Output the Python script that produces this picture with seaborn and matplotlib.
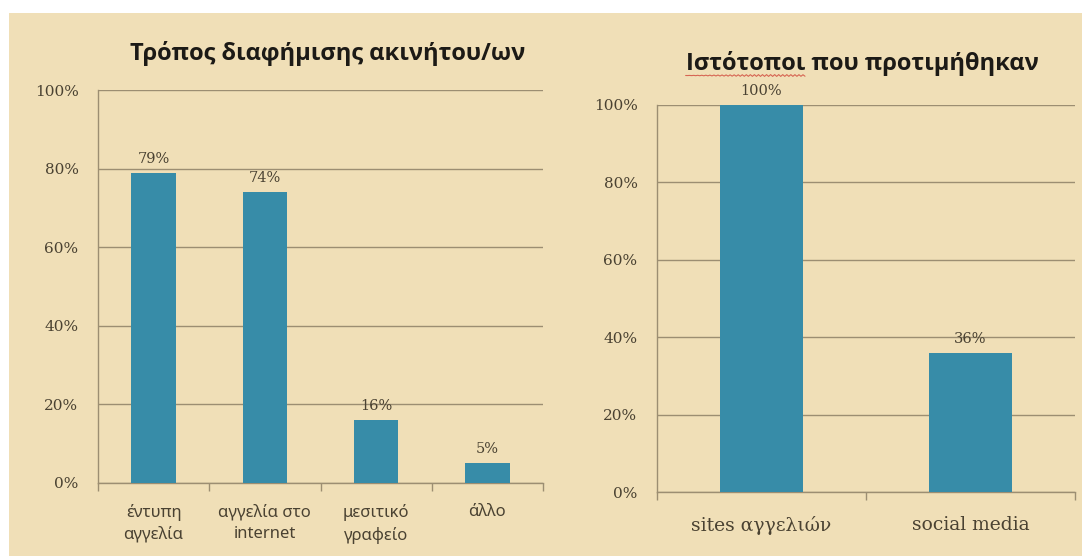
import matplotlib
matplotlib.use("Agg")
import numpy as np
import matplotlib.pyplot as plt
import seaborn as sns
from matplotlib.lines import Line2D
from matplotlib.patches import Rectangle
from matplotlib.ticker import FixedLocator, PercentFormatter

# --- data ---
left_title = "Τρόπος διαφήμισης ακινήτου/ων"
left_categories = ["έντυπη\nαγγελία", "αγγελία στο\ninternet", "μεσιτικό\nγραφείο", "άλλο"]
left_values = [79, 74, 16, 5]

right_title = "Ιστότοποι που προτιμήθηκαν"
right_categories = ["sites αγγελιών", "social media"]
right_values = [100, 36]

y_ticks = [0, 20, 40, 60, 80, 100]

# --- style ---
BG = "#F0DFB7"
BAR = "#378CA8"
GRID = "#9C8E72"
TXT = "#4A4232"
TITLE = "#1C1A16"
SERIF = ["DejaVu Serif"]
SANS = ["Noto Sans", "DejaVu Sans"]
TITLE_FONT = ["Open Sans", "DejaVu Sans"]

sns.set_theme(style="white")
plt.rcParams["font.family"] = SERIF

W, H = 1082, 556
fig = plt.figure(figsize=(W / 100, H / 100), dpi=100, facecolor="white")
fig.patches.append(Rectangle((9 / W, 0), 1 - 9 / W, 1 - 13 / H,
                             transform=fig.transFigure, facecolor=BG,
                             edgecolor="none", zorder=-10))


def px_axes(x0, x1, ytop, ybot):
    return fig.add_axes([x0 / W, 1 - ybot / H, (x1 - x0) / W, (ybot - ytop) / H])


def draw_bars(ax, cats, vals, xlab_font, xlab_size, xlab_pad, spacing):
    n = len(cats)
    sns.barplot(x=cats, y=vals, color=BAR, saturation=1, width=0.4, ax=ax,
                linewidth=0, edgecolor="none", zorder=3)
    ax.set_facecolor("none")
    ax.set_xlim(-0.5, n - 0.5)
    ax.set_ylim(0, 100)
    ax.yaxis.set_major_locator(FixedLocator(y_ticks))
    ax.yaxis.set_major_formatter(PercentFormatter(decimals=0))
    ax.grid(axis="y", color=GRID, linewidth=1)
    ax.grid(axis="x", visible=False)
    ax.set_axisbelow(True)
    for side in ("top", "right"):
        ax.spines[side].set_visible(False)
    for side in ("left", "bottom"):
        ax.spines[side].set_color(GRID)
        ax.spines[side].set_linewidth(1)
    ax.tick_params(axis="y", length=8, width=1, color=GRID, pad=6,
                   labelsize=11, labelcolor=TXT)
    ax.set_xticks(range(n))
    ax.set_xticklabels(cats, fontsize=xlab_size, color=TXT,
                       linespacing=spacing, family=xlab_font)
    ax.tick_params(axis="x", which="major", length=0, pad=xlab_pad)
    ax.set_xticks(np.arange(-0.5, n), minor=True)
    ax.tick_params(axis="x", which="minor", length=6, width=1, color=GRID,
                   direction="out", bottom=True)
    ax.set_xlabel("")
    ax.set_ylabel("")
    for c in ax.containers:
        ax.bar_label(c, labels=[f"{v:.0f}%" for v in c.datavalues],
                     padding=5, fontsize=10.5, color=TXT)


ax1 = px_axes(98, 543, 90, 483)
draw_bars(ax1, left_categories, left_values, SANS, 12, 15, 1.45)

ax2 = px_axes(657, 1075, 105, 492)
draw_bars(ax2, right_categories, right_values, SERIF, 13.5, 17, 1.2)

title_kw = dict(fontsize=17, fontweight="bold", color=TITLE, family=TITLE_FONT)
fig.text(328 / W, 1 - 53 / H, left_title, ha="center", va="center", **title_kw)
t2 = fig.text(862 / W, 1 - 64 / H, right_title, ha="center", va="center", **title_kw)

# red spell-check squiggle under the first word of the right title
renderer = fig.canvas.get_renderer()
full = t2.get_window_extent(renderer)
probe = fig.text(0, 0, right_title.split()[0], **title_kw)
word_w = probe.get_window_extent(renderer).width
probe.remove()
xs = np.linspace(full.x0, full.x0 + word_w, 60)
ys = full.y0 + 1.0 + 0.9 * np.sin((xs - full.x0) * np.pi / 2.0)
fx, fy = fig.transFigure.inverted().transform(np.column_stack([xs, ys])).T
fig.add_artist(Line2D(fx, fy, transform=fig.transFigure, color="#D0473A",
                      linewidth=0.8, alpha=0.8))

fig.savefig("out.png", dpi=100, facecolor=fig.get_facecolor())
